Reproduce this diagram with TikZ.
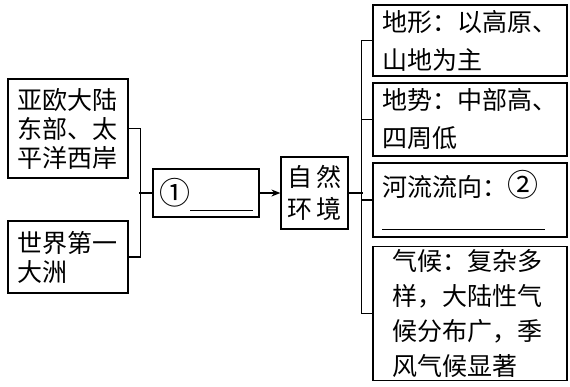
\documentclass[tikz,border=0pt]{standalone}
\usepackage{fontspec}
\newfontfamily\cjk{Noto Sans CJK SC}
\usetikzlibrary{arrows.meta}

\begin{document}
\begin{tikzpicture}[x=1pt, y=-1pt, line width=1.2pt,
    every node/.style={font=\cjk\fontsize{25}{29}\selectfont},
    box/.style={draw, align=left, inner xsep=2pt}]
            \useasboundingbox (0,0) rectangle (570,386);
            \node[box,minimum width=120pt,minimum height=99pt,text width=102pt] (loc) at (68,128.5) {亚欧大陆\\东部、太\\平洋西岸};
            \node[box,minimum width=120pt,minimum height=72pt,text width=102pt] (size) at (68,257) {世界第一\\大洲};
            \node[box,minimum width=106pt,minimum height=48pt] (num) at (206,193) {{\fontsize{31}{31}\selectfont ①}\smash{\rule[-6pt]{63pt}{1pt}}};
            \node[box,align=center,minimum width=67pt,minimum height=72pt,font=\cjk\fontsize{25}{32}\selectfont] (env) at (314.5,193) {自\kern4pt然\\环\kern4pt境};
            \node[box,minimum width=194pt,minimum height=71pt,text width=176pt,font=\cjk\fontsize{25}{38}\selectfont] (terrain) at (470,40.5) {地形：以高原、\\山地为主};
            \node[box,minimum width=194pt,minimum height=73pt,text width=176pt,font=\cjk\fontsize{25}{38}\selectfont] (relief) at (470,119.5) {地势：中部高、\\四周低};
            \node[box,minimum width=194pt,minimum height=74pt,text width=176pt,font=\cjk\fontsize{25}{38}\selectfont] (river) at (470,200) {河流流向：{\fontsize{31}{31}\selectfont ②}\\[-4pt]\rule{163pt}{1pt}};
            \node[box,minimum width=194pt,minimum height=133pt,text width=156pt,font=\cjk\fontsize{25}{35}\selectfont] (climate) at (470,313.5) {气候：复杂多\\样，大陆性气\\候分布广，季\\风气候显著};
            \draw (loc.east) -- ++(12,0) |- (size.east);
            \draw (num.west) -- ++(-13,0);
            \draw[-{Stealth[length=9pt,width=7pt]}] (num) -- (env);
            \draw (env.east) -- ++(14,0);
            \draw (terrain.west) -- ++(-11,0) |- (climate.west);
            \draw (relief.west) -- ++(-11,0);
            \draw (river.west) -- ++(-11,0);
        \end{tikzpicture}
\end{document}
